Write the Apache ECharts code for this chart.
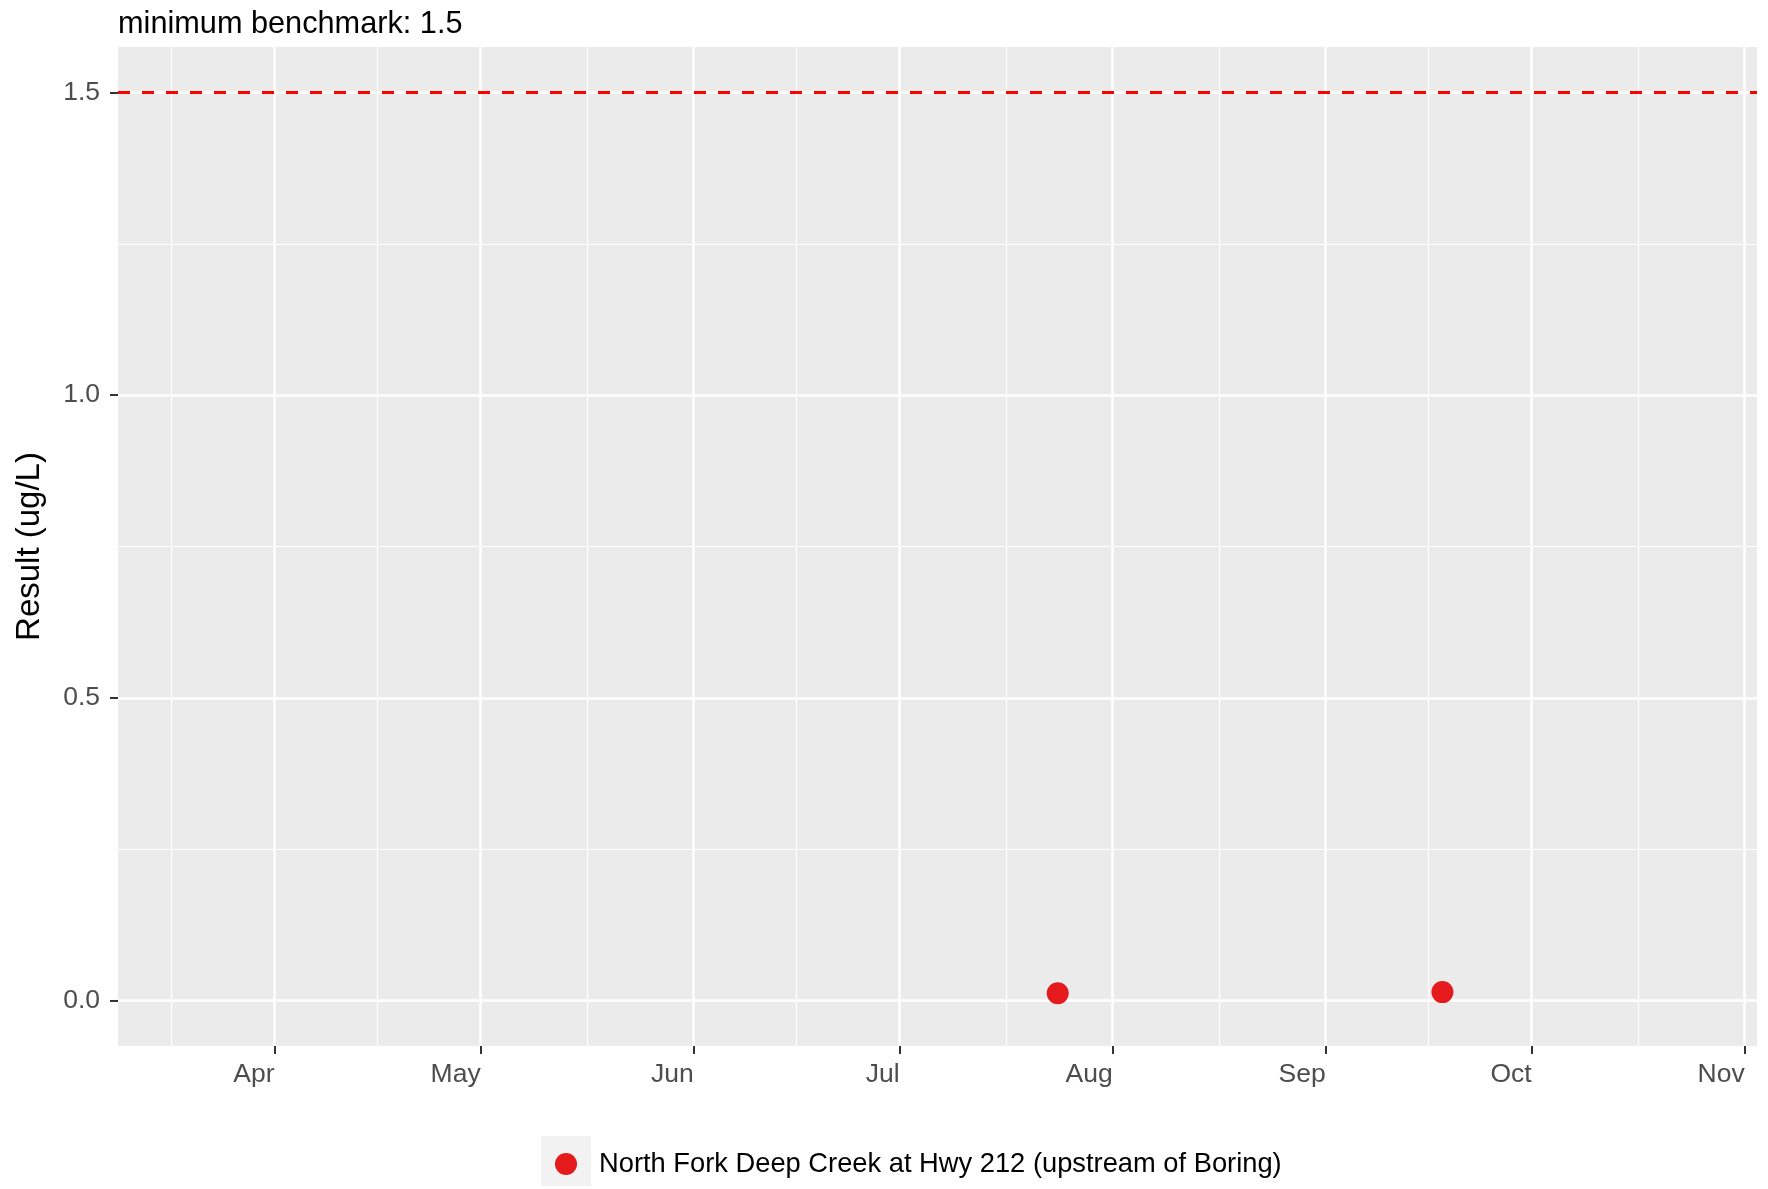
<!DOCTYPE html>
<html>
<head>
<meta charset="utf-8">
<title>minimum benchmark: 1.5</title>
<script src="https://cdn.jsdelivr.net/npm/echarts@6/dist/echarts.min.js"></script>
<style>
    html, body { margin: 0; padding: 0; background: #fff; }
    #chart { width: 1768px; height: 1189px; }
</style>
</head>
<body>
<div id="chart"></div>
<script>
// 数据
const siteName = 'North Fork Deep Creek at Hwy 212 (upstream of Boring)';
const sampleDates = ['2019-07-24', '2019-09-18'];
const sampleValues = [0.012, 0.014];
const benchmark = 1.5;

// x 轴刻度：月初 + 次网格线
const monthTicks = ['2019-04-01', '2019-05-01', '2019-06-01', '2019-07-01', '2019-08-01', '2019-09-01', '2019-10-01', '2019-11-01'];
const monthLabels = ['Apr', 'May', 'Jun', 'Jul', 'Aug', 'Sep', 'Oct', 'Nov'];
const monthMinor = ['2019-03-17', '2019-04-16', '2019-05-16 12:00', '2019-06-16', '2019-07-16 12:00', '2019-08-16 12:00', '2019-09-16', '2019-10-16 12:00'];
const xRange = ['2019-03-09 05:00', '2019-11-02 19:00'];

// y 轴刻度
const yTicks = [0, 0.5, 1, 1.5];
const yMinor = [0.25, 0.75, 1.25];
const yRange = [-0.075, 1.575];

const FONT = '"Liberation Sans", Arial, Helvetica, sans-serif';

// 日期字符串 -> 时间戳（x 轴用数值轴承载时间戳）
function toTime(s) {
    const [d, t] = s.split(' ');
    const [y, m, dd] = d.split('-').map(Number);
    const [hh, mm] = (t || '0:0').split(':').map(Number);
    return Date.UTC(y, m - 1, dd, hh, mm);
}

const monthTimes = monthTicks.map(toTime);
const minorTimes = monthMinor.map(toTime);

function monthLabel(v) {
    for (let i = 0; i < monthTimes.length; i++) {
        if (Math.abs(monthTimes[i] - v) < 3600000) return monthLabels[i];
    }
    return '';
}

const chart = echarts.init(document.getElementById('chart'));

const option = {
    backgroundColor: '#fff',
    animation: false,
    textStyle: { fontFamily: FONT },
    title: {
        text: 'minimum benchmark: ' + benchmark,
        left: 118,
        top: 9,
        padding: 0,
        textStyle: { fontFamily: FONT, fontSize: 30.7, fontWeight: 'normal', color: '#000' },
    },
    grid: {
        left: 118,
        right: 11,
        top: 47,
        bottom: 143,
        show: true,
        backgroundColor: '#EBEBEB',
        borderWidth: 0,
    },
    xAxis: [
        {
            type: 'value',
            min: toTime(xRange[0]),
            max: toTime(xRange[1]),
            axisLine: { show: false, onZero: false },
            axisTick: {
                show: true,
                length: 8,
                customValues: monthTimes,
                lineStyle: { color: '#333333', width: 2 },
            },
            axisLabel: {
                customValues: monthTimes,
                formatter: monthLabel,
                align: 'right',
                margin: 15,
                fontSize: 26.5,
                color: '#4D4D4D',
                fontFamily: FONT,
            },
            splitLine: { show: true, lineStyle: { color: '#FFFFFF', width: 2.5 } },
        },
        {
            type: 'value',
            position: 'bottom',
            min: toTime(xRange[0]),
            max: toTime(xRange[1]),
            axisLine: { show: false, onZero: false },
            axisTick: { show: false, customValues: minorTimes },
            axisLabel: { show: false },
            splitLine: { show: true, lineStyle: { color: '#FFFFFF', width: 1.2 } },
        },
    ],
    yAxis: [
        {
            type: 'value',
            min: yRange[0],
            max: yRange[1],
            name: 'Result (ug/L)',
            nameLocation: 'middle',
            nameGap: 72,
            nameTextStyle: { fontFamily: FONT, fontSize: 33, color: '#000' },
            axisLine: { show: false, onZero: false },
            axisTick: {
                show: true,
                length: 8,
                customValues: yTicks,
                lineStyle: { color: '#333333', width: 2 },
            },
            axisLabel: {
                customValues: yTicks,
                formatter: (v) => v.toFixed(1),
                margin: 18,
                fontSize: 26.5,
                color: '#4D4D4D',
                fontFamily: FONT,
            },
            splitLine: { show: true, lineStyle: { color: '#FFFFFF', width: 2.5 } },
        },
        {
            type: 'value',
            position: 'left',
            min: yRange[0],
            max: yRange[1],
            axisLine: { show: false, onZero: false },
            axisTick: { show: false, customValues: yMinor },
            axisLabel: { show: false },
            splitLine: { show: true, lineStyle: { color: '#FFFFFF', width: 1.2 } },
        },
    ],
    legend: {
        data: [siteName],
        left: 555,
        top: 1149,
        padding: 0,
        icon: 'circle',
        itemWidth: 56,
        itemHeight: 22,
        textStyle: { fontFamily: FONT, fontSize: 27.3, color: '#000', lineHeight: 30 },
    },
    graphic: [
        {
            type: 'rect',
            left: 541,
            top: 1136,
            z: 0,
            shape: { width: 50, height: 50 },
            style: { fill: '#F2F2F2' },
        },
    ],
    series: [
        {
            name: siteName,
            type: 'scatter',
            xAxisIndex: 0,
            yAxisIndex: 0,
            symbol: 'circle',
            symbolSize: 22,
            itemStyle: { color: '#E41A1C', opacity: 1 },
            data: sampleDates.map((d, i) => [toTime(d), sampleValues[i]]),
            markLine: {
                silent: true,
                symbol: 'none',
                label: { show: false },
                lineStyle: { color: '#FF0000', type: [12, 12], width: 3 },
                data: [{ yAxis: benchmark }],
            },
        },
    ],
};

chart.setOption(option);
</script>
</body>
</html>
